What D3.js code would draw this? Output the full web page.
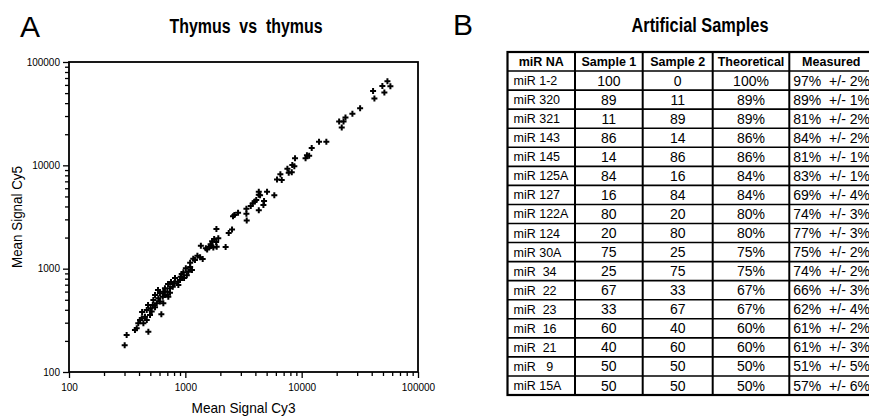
<!DOCTYPE html>
<html>
<head>
<meta charset="utf-8">
<script src="https://cdn.jsdelivr.net/npm/d3@7"></script>
<style>
  body { margin: 0; background: #fff; }
  svg { display: block; font-family: "Liberation Sans", Arial, sans-serif; }
</style>
</head>
<body>
<svg id="chart" width="869" height="416"></svg>
<script>

  // ---------------------------//
  //            DATA            //
  // ---------------------------//

    // scatter: mean signal Cy3 / Cy5
    var cy3 = [54600, 49400, 57900, 41100, 51400, 42200, 31800, 27300, 23800, 21000,
               22900, 22100, 16300, 14100, 12200, 11100, 11600, 10800, 8770, 8310,
               8650, 7540, 7740, 8220, 6560, 6140, 6740, 5040, 5820, 4280,
               4280, 4390, 4070, 3950, 4750, 3800, 3650, 4690, 3350, 4280,
               3350, 2840, 2640, 2570, 3370, 2520, 2360, 1850, 1770, 1920,
               1700, 1840, 1660, 1740, 1860, 2220, 1500, 1360, 1610, 1540,
               1650, 1270, 1340, 1210, 1170, 1410, 1100, 1100, 1010, 1140,
               1060, 962, 931, 912, 1030, 861, 800, 871, 780, 738,
               900, 668, 647, 700, 605, 668, 640, 714, 738, 586,
               531, 605, 568, 525, 647, 504, 549, 466, 514, 450,
               497, 422, 408, 466, 436, 394, 382, 369, 481, 313,
               301, 622, 815, 975, 753, 710, 582, 549, 478, 425];
    var cy5 = [65200, 58700, 58300, 52500, 50600, 44300, 35700, 31500, 29000, 26500,
               26500, 23200, 16900, 16900, 14700, 12500, 12400, 11700, 11700, 10100,
               9790, 9290, 8490, 8570, 8200, 7280, 7230, 5560, 5140, 5560,
               5200, 5140, 4620, 4460, 4520, 4290, 4050, 4140, 3790, 3670,
               3400, 3480, 3310, 3210, 2920, 2390, 2220, 2420, 1940, 1970,
               1840, 1810, 1660, 1600, 1630, 1620, 1580, 1670, 1630, 1530,
               1720, 1330, 1290, 1210, 1250, 1240, 1140, 1040, 1010, 970,
               935, 923, 889, 837, 863, 748, 722, 695, 670, 646,
               778, 646, 599, 599, 578, 556, 536, 536, 586, 516,
               498, 480, 463, 446, 463, 414, 423, 398, 384, 343,
               357, 331, 318, 318, 296, 296, 265, 255, 245, 228,
               181, 362, 813, 813, 743, 711, 622, 556, 446, 381];

    var majorTicks = [100, 1000, 10000, 100000];

    // table: artificial samples
    var tableHeader = ["miR NA", "Sample 1", "Sample 2", "Theoretical", "Measured"];
    var mirNames = ["miR 1-2", "miR 320", "miR 321", "miR 143", "miR 145", "miR 125A",
                    "miR 127", "miR 122A", "miR 124", "miR 30A", "miR  34", "miR  22",
                    "miR  23", "miR  16", "miR  21", "miR   9", "miR 15A"];
    var sample1 = [100, 89, 11, 86, 14, 84, 16, 80, 20, 75, 25, 67, 33, 60, 40, 50, 50];
    var sample2 = [0, 11, 89, 14, 86, 16, 84, 20, 80, 25, 75, 33, 67, 40, 60, 50, 50];
    var theoretical = ["100%", "89%", "89%", "86%", "86%", "84%", "84%", "80%", "80%",
                       "75%", "75%", "67%", "67%", "60%", "60%", "50%", "50%"];
    var measured = ["97%  +/- 2%", "89%  +/- 1%", "81%  +/- 2%", "84%  +/- 2%",
                    "81%  +/- 1%", "83%  +/- 1%", "69%  +/- 4%", "74%  +/- 3%",
                    "77%  +/- 3%", "75%  +/- 2%", "74%  +/- 2%", "66%  +/- 3%",
                    "62%  +/- 4%", "61%  +/- 2%", "61%  +/- 3%", "51%  +/- 5%",
                    "57%  +/- 6%"];

  // ---------------------------//
  //          CONTAINER         //
  // ---------------------------//

    var svg = d3.select("#chart");

    var plot = { left: 69, right: 418, top: 62, bottom: 372 };

  // ---------------------------//
  //       AXIS  AND SCALE      //
  // ---------------------------//

    var x = d3.scaleLog()
        .domain([100, 100000])
        .range([plot.left, plot.right]);

    var y = d3.scaleLog()
        .domain([100, 100000])
        .range([plot.bottom, plot.top]);

    // every 2..9 step of each decade
    var minorTicks = [];
    majorTicks.slice(0, -1).forEach(function(m) {
        for (var k = 2; k < 10; k++) minorTicks.push(m * k);
    });

    var fmt = d3.format("d");

    // minor ticks
    svg.append("g")
        .attr("transform", "translate(0," + plot.bottom + ")")
        .call(d3.axisBottom(x).tickValues(minorTicks).tickSize(4).tickFormat(""))
        .call(g => g.select(".domain").remove());

    svg.append("g")
        .attr("transform", "translate(" + plot.left + ",0)")
        .call(d3.axisLeft(y).tickValues(minorTicks).tickSize(4).tickFormat(""))
        .call(g => g.select(".domain").remove());

    // major ticks + labels
    var xAxis = svg.append("g")
        .attr("transform", "translate(0," + plot.bottom + ")")
        .call(d3.axisBottom(x).tickValues(majorTicks).tickSize(6).tickPadding(6).tickFormat(fmt));

    var yAxis = svg.append("g")
        .attr("transform", "translate(" + plot.left + ",0)")
        .call(d3.axisLeft(y).tickValues(majorTicks).tickSize(6).tickPadding(3).tickFormat(fmt));

    [xAxis, yAxis].forEach(function(a) {
        a.select(".domain").remove();
        a.selectAll("text").style("font-size", "10px").attr("fill", "#000");
    });

    svg.selectAll(".tick line").attr("stroke", "#000").attr("stroke-width", 1.3);

    // frame
    svg.append("rect")
        .attr("x", plot.left)
        .attr("y", plot.top)
        .attr("width", plot.right - plot.left)
        .attr("height", plot.bottom - plot.top)
        .attr("fill", "none")
        .attr("stroke", "#000")
        .attr("stroke-width", 1.8);

  // ---------------------------//
  //           DRAWING          //
  // ---------------------------//

    var points = cy3.map((d, i) => ({ cy3: d, cy5: cy5[i] }));

    svg.append("g")
        .selectAll("path")
        .data(points)
        .enter().append("path")
        .attr("transform", d => "translate(" + x(d.cy3) + "," + y(d.cy5) + ")")
        .attr("d", d3.symbol().type(d3.symbolCross).size(20))
        .attr("fill", "#000");

  // ---------------------------//
  //           LABELS           //
  // ---------------------------//

    svg.append("text")
        .attr("x", 20)
        .attr("y", 37)
        .style("font-size", "30px")
        .text("A");

    svg.append("text")
        .attr("x", 246)
        .attr("y", 33)
        .attr("text-anchor", "middle")
        .attr("textLength", 153)
        .attr("lengthAdjust", "spacingAndGlyphs")
        .style("font-size", "20px")
        .style("font-weight", "bold")
        .style("white-space", "pre")
        .text("Thymus  vs  thymus");

    svg.append("text")
        .attr("x", (plot.left + plot.right) / 2)
        .attr("y", 413)
        .attr("text-anchor", "middle")
        .attr("textLength", 104)
        .attr("lengthAdjust", "spacingAndGlyphs")
        .style("font-size", "15px")
        .text("Mean Signal Cy3");

    svg.append("text")
        .attr("transform", "translate(22," + (plot.top + plot.bottom) / 2 + ") rotate(-90)")
        .attr("text-anchor", "middle")
        .attr("textLength", 102)
        .attr("lengthAdjust", "spacingAndGlyphs")
        .style("font-size", "14px")
        .text("Mean Signal Cy5");

  // ---------------------------//
  //            TABLE           //
  // ---------------------------//

    svg.append("text")
        .attr("x", 453)
        .attr("y", 35)
        .style("font-size", "30px")
        .text("B");

    svg.append("text")
        .attr("x", 700)
        .attr("y", 32)
        .attr("text-anchor", "middle")
        .attr("textLength", 137)
        .attr("lengthAdjust", "spacingAndGlyphs")
        .style("font-size", "20px")
        .style("font-weight", "bold")
        .text("Artificial Samples");

    var colWidths = [67.5, 67.7, 70, 76.6, 84];
    var colEdges = [507.5];
    colWidths.forEach(w => colEdges.push(colEdges[colEdges.length - 1] + w));

    var rows = d3.range(mirNames.length + 1);
    var rowY = d3.scaleBand()
        .domain(rows)
        .range([52, 395]);

    var cells = [];
    tableHeader.forEach((h, c) => cells.push({ r: 0, c: c, text: h, head: true }));
    mirNames.forEach(function(n, i) {
        [n, sample1[i], sample2[i], theoretical[i], measured[i]].forEach(function(v, c) {
            cells.push({ r: i + 1, c: c, text: String(v), head: false });
        });
    });

    var table = svg.append("g");

    // row lines
    table.selectAll(".hline")
        .data(rows.slice(1))
        .enter().append("line")
        .attr("x1", colEdges[0])
        .attr("x2", colEdges[colEdges.length - 1])
        .attr("y1", d => rowY(d))
        .attr("y2", d => rowY(d))
        .attr("stroke", "#000")
        .attr("stroke-width", 1.6);

    // column lines
    table.selectAll(".vline")
        .data(colEdges.slice(1, -1))
        .enter().append("line")
        .attr("x1", d => d)
        .attr("x2", d => d)
        .attr("y1", 52)
        .attr("y2", 395)
        .attr("stroke", "#000")
        .attr("stroke-width", 2);

    table.append("rect")
        .attr("x", colEdges[0])
        .attr("y", 52)
        .attr("width", colEdges[colEdges.length - 1] - colEdges[0])
        .attr("height", 395 - 52)
        .attr("fill", "none")
        .attr("stroke", "#000")
        .attr("stroke-width", 2.2);

    table.selectAll(".cell")
        .data(cells)
        .enter().append("text")
        .attr("x", function(d) {
            if (d.head) return (colEdges[d.c] + colEdges[d.c + 1]) / 2;
            if (d.c === 0) return colEdges[0] + 6;
            if (d.c === 4) return colEdges[4] + 4;
            return (colEdges[d.c] + colEdges[d.c + 1]) / 2;
        })
        .attr("y", d => rowY(d.r) + rowY.bandwidth() / 2)
        .attr("dy", "0.36em")
        .attr("text-anchor", d => (!d.head && (d.c === 0 || d.c === 4)) ? "start" : "middle")
        .style("font-size", d => d.head ? "12.5px" : (d.c === 0 ? "12.5px" : "14px"))
        .style("font-weight", d => d.head ? "bold" : "normal")
        .style("white-space", "pre")
        .text(d => d.text);

</script>
</body>
</html>
